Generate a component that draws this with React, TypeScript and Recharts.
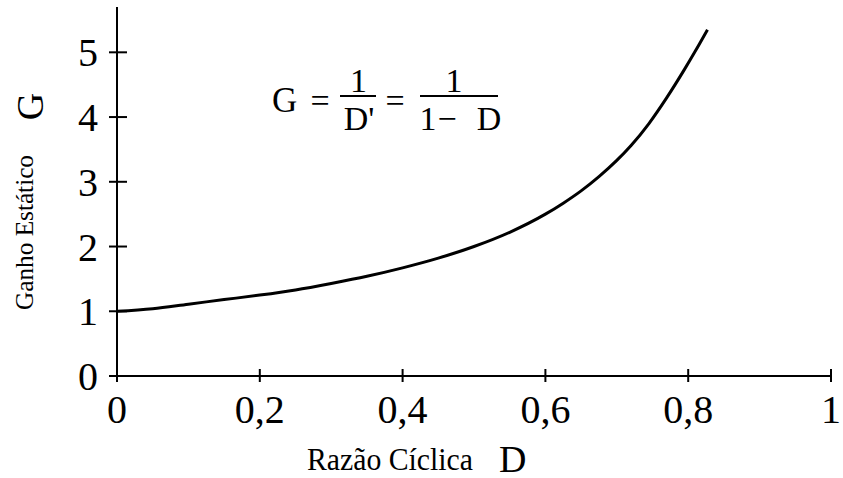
import React from "react";
import { LineChart, Line, XAxis, YAxis } from "recharts";

const D_VALUES = [0, 0.05, 0.1, 0.15, 0.2, 0.25, 0.3, 0.35, 0.4, 0.45, 0.5, 0.55, 0.6, 0.625, 0.65, 0.675, 0.7, 0.72, 0.745, 0.77, 0.795, 0.81, 0.827];
const G_VALUES = [1.0, 1.04, 1.11, 1.18, 1.25, 1.33, 1.43, 1.54, 1.67, 1.82, 2.0, 2.22, 2.5, 2.67, 2.86, 3.08, 3.33, 3.56, 3.9, 4.3, 4.74, 5.02, 5.35];
const X_TICKS = [0, 0.2, 0.4, 0.6, 0.8, 1];
const X_TICK_LABELS = ["0", "0,2", "0,4", "0,6", "0,8", "1"];
const Y_TICKS = [0, 1, 2, 3, 4, 5];
const Y_TICK_LABELS = ["0", "1", "2", "3", "4", "5"];

const data = D_VALUES.map((d, i) => ({ d, g: G_VALUES[i] }));

const FONT = "Liberation Serif, DejaVu Serif, serif";

const XTick = (props: any) => {
  const { x, y, payload } = props;
  const idx = X_TICKS.indexOf(payload.value);
  return (
    <g>
      <line x1={x} x2={x} y1={y - 7} y2={y + 6} stroke="#000" strokeWidth={2} />
      <text x={x} y={y + 47} textAnchor="middle" style={{ fontFamily: FONT }} fontSize={40} fill="#000">
        {idx >= 0 ? X_TICK_LABELS[idx] : String(payload.value)}
      </text>
    </g>
  );
};

const YTick = (props: any) => {
  const { x, y, payload } = props;
  const idx = Y_TICKS.indexOf(payload.value);
  return (
    <g>
      <line x1={x - 8} x2={x + 10} y1={y} y2={y} stroke="#000" strokeWidth={2} />
      <text x={x - 19} y={y + 14} textAnchor="end" style={{ fontFamily: FONT }} fontSize={40} fill="#000">
        {idx >= 0 ? Y_TICK_LABELS[idx] : String(payload.value)}
      </text>
    </g>
  );
};

export default function App() {
  return (
    <div style={{ position: "absolute", left: 0, top: 0, width: 843, height: 478, background: "#fff" }}>
      <LineChart
        width={843}
        height={478}
        data={data}
        margin={{ top: 7, right: 12, bottom: 72, left: 57 }}
      >
        <XAxis
          dataKey="d"
          type="number"
          domain={[0, 1]}
          ticks={X_TICKS}
          height={30}
          tickSize={0}
          tickMargin={0}
          tickLine={false}
          axisLine={{ stroke: "#000", strokeWidth: 2 }}
          tick={<XTick />}
          interval={0}
        />
        <YAxis
          type="number"
          domain={[0, 5.7]}
          ticks={Y_TICKS}
          width={60}
          tickSize={0}
          tickMargin={0}
          tickLine={false}
          axisLine={{ stroke: "#000", strokeWidth: 2 }}
          tick={<YTick />}
          interval={0}
        />
        <Line
          type="monotone"
          dataKey="g"
          stroke="#000"
          strokeWidth={3}
          dot={false}
          isAnimationActive={false}
        />
      </LineChart>
      <svg
        width={843}
        height={478}
        style={{ position: "absolute", left: 0, top: 0, pointerEvents: "none", fontFamily: FONT }}
      >
        <g fill="#000">
          {/* formula */}
          <text x={272} y={112} fontSize={35}>G</text>
          <text x={320} y={112} fontSize={34} textAnchor="middle">=</text>
          <text x={358.5} y={92} fontSize={34} textAnchor="middle">1</text>
          <line x1={340} x2={376} y1={96} y2={96} stroke="#000" strokeWidth={2} />
          <text x={359} y={130} fontSize={34} textAnchor="middle">D'</text>
          <text x={395} y={112} fontSize={34} textAnchor="middle">=</text>
          <text x={454} y={92} fontSize={34} textAnchor="middle">1</text>
          <line x1={420} x2={498} y1={96} y2={96} stroke="#000" strokeWidth={2} />
          <text x={428} y={130} fontSize={34} textAnchor="middle">1</text>
          <text x={447} y={130} fontSize={34} textAnchor="middle">−</text>
          <text x={489} y={130} fontSize={34} textAnchor="middle">D</text>
          {/* x title */}
          <text x={307} y={470} fontSize={31} textLength={166} lengthAdjust="spacingAndGlyphs">Razão Cíclica</text>
          <text x={499} y={472} fontSize={38}>D</text>
          {/* y title */}
          <text
            x={0}
            y={0}
            fontSize={26}
            textAnchor="middle"
            textLength={155}
            lengthAdjust="spacingAndGlyphs"
            transform="translate(33,232.5) rotate(-90)"
          >
            Ganho Estático
          </text>
          <text x={0} y={0} fontSize={38} textAnchor="middle" transform="translate(43,106.5) rotate(-90)">
            G
          </text>
        </g>
      </svg>
    </div>
  );
}
